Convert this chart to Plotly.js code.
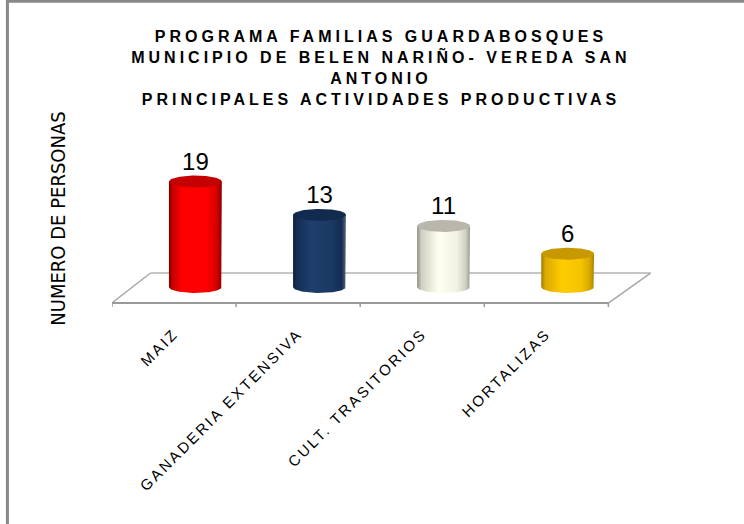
<!DOCTYPE html>
<html>
<head>
<meta charset="utf-8">
<script src="https://cdn.plot.ly/plotly-3.0.1.min.js"></script>
<style>
  html, body { margin: 0; padding: 0; background: #fff; }
  #chart { width: 744px; height: 524px; }
  .gtitle { letter-spacing: 4px; }
  .xtick text { letter-spacing: 2.5px; }
</style>
</head>
<body>
<div id="chart"></div>
<script>
// ---- data ----
const categories = ['MAIZ', 'GANADERIA EXTENSIVA', 'CULT. TRASITORIOS', 'HORTALIZAS'];
const values = [19, 13, 11, 6];
const titleLines = ['PROGRAMA FAMILIAS GUARDABOSQUES', 'MUNICIPIO DE BELEN NARIÑO- VEREDA SAN', 'ANTONIO', 'PRINCIPALES ACTIVIDADES PRODUCTIVAS'];
const yTitle = 'NUMERO DE PERSONAS';

// ---- styles ----
const bodyScales = [
  [[0, '#7a0000'], [0.07, '#c80000'], [0.25, '#ff0000'], [0.7, '#ff0000'], [0.9, '#d60000'], [1, '#8a0000']],
  [[0, '#0b1f3b'], [0.08, '#142e55'], [0.35, '#1f3f6c'], [0.75, '#1a3863'], [0.92, '#132c52'], [1, '#5a6878']],
  [[0, '#8c8c84'], [0.08, '#cfcfc4'], [0.4, '#fffff0'], [0.75, '#f2f2e4'], [0.92, '#cfcfc2'], [1, '#9a9a92']],
  [[0, '#a07a00'], [0.08, '#dcaa00'], [0.4, '#ffcc00'], [0.75, '#f5c400'], [0.92, '#d8a800'], [1, '#a88400']]
];
const topColors = ['#c40000', '#112a4e', '#b9b6ab', '#c89800'];

const barOffset = 0.172;   // 3D depth shift of bar centres (category units)
const halfW = 0.213;       // half width of cylinder (category units)
const ry = 1.08;           // vertical semi-axis of ellipses (value units)
const frontY = -2.883, backY = 2.52, backDx = 0.31, yMin = -3.6, yMax = 28.29;
const N = 60;

const traces = [];

// floor (chart frame)
const nCat = categories.length;
const fx0 = -0.5, fx1 = nCat - 0.5;
traces.push({
  x: [fx0 + backDx, fx1 + backDx + 0.03], y: [backY, backY], mode: 'lines',
  line: {color: '#c6c6c6', width: 2}, hoverinfo: 'skip', showlegend: false
});
traces.push({
  x: [fx0, fx0 + backDx, null, fx1, fx1 + backDx + 0.03], y: [frontY, backY, null, frontY, backY], mode: 'lines',
  line: {color: '#a8a8a8', width: 1.5}, hoverinfo: 'skip', showlegend: false
});
const tx = [], ty = [];
for (let i = 0; i <= nCat; i++) { tx.push(fx0 + i, fx0 + i, null); ty.push(frontY, yMin, null); }
traces.push({x: tx, y: ty, mode: 'lines', line: {color: '#999', width: 1.5}, hoverinfo: 'skip', showlegend: false});
traces.push({
  x: [fx0, fx1], y: [frontY, frontY], mode: 'lines',
  line: {color: '#999', width: 2}, hoverinfo: 'skip', showlegend: false
});

// cylinders
values.forEach((v, i) => {
  const cx = i + barOffset;
  const bx = [cx - halfW, cx - halfW, cx + halfW, cx + halfW];
  const by = [0, v, v, 0];
  for (let k = 0; k <= N; k++) {
    const t = Math.PI * k / N;
    bx.push(cx + halfW * Math.cos(t));
    by.push(-ry * Math.sin(t));
  }
  traces.push({
    x: bx, y: by, mode: 'lines', fill: 'toself',
    line: {width: 0, color: 'rgba(0,0,0,0)'},
    fillgradient: {type: 'horizontal', colorscale: bodyScales[i]},
    hoverinfo: 'skip', showlegend: false
  });
  const ex = [], ey = [];
  for (let k = 0; k <= 2 * N; k++) {
    const t = Math.PI * k / N;
    ex.push(cx + halfW * Math.cos(t));
    ey.push(v + ry * Math.sin(t));
  }
  traces.push({
    x: ex, y: ey, mode: 'lines', fill: 'toself', fillcolor: topColors[i],
    line: {width: 0, color: 'rgba(0,0,0,0)'}, hoverinfo: 'skip', showlegend: false
  });
});

// value labels
traces.push({
  x: values.map((v, i) => i + barOffset),
  y: values.map(v => v + ry),
  text: values.map(String),
  mode: 'text', textposition: 'top center',
  textfont: {family: 'Liberation Sans, Arial, sans-serif', size: 24, color: '#000'},
  cliponaxis: false, hoverinfo: 'skip', showlegend: false
});

const W = 744, H = 524, L = 112, T = 130, B = 217;
const R = W - L - 124 * 4.4;
const pw = W - L - R, ph = H - T - B;
const px = X => (X - L) / pw;
const py = Y => (H - B - Y) / ph;

const layout = {
  width: W, height: H,
  margin: {l: L, r: R, t: T, b: B},
  paper_bgcolor: '#fff', plot_bgcolor: 'rgba(0,0,0,0)',
  showlegend: false,
  title: {
    text: '<b>' + titleLines.join('<br>') + '</b>',
    font: {family: 'Liberation Sans, Arial, sans-serif', size: 16, color: '#000'},
    xref: 'container', yref: 'container', x: 0.512, xanchor: 'center', y: 0.919, yanchor: 'top'
  },
  xaxis: {
    range: [-0.5, 3.9], showgrid: false, zeroline: false, showline: false,
    tickmode: 'array', tickvals: categories.map((c, i) => i), ticktext: categories,
    tickangle: -45, ticks: '', ticklabelstandoff: 14,
    tickfont: {family: 'Liberation Sans, Arial, sans-serif', size: 15, color: '#000'},
    fixedrange: true
  },
  yaxis: {
    range: [yMin, yMax], showgrid: false, zeroline: false, showline: false,
    showticklabels: false, ticks: '', fixedrange: true,
    title: {text: yTitle, standoff: 40, font: {family: 'Liberation Sans Narrow, DejaVu Sans Condensed, Arial Narrow, sans-serif', size: 20, color: '#000'}}
  },
  shapes: [{
    type: 'path', xref: 'paper', yref: 'paper',
    path: `M ${px(7.5)} ${py(H + 10)} L ${px(7.5)} ${py(1.2)} L ${px(W + 10)} ${py(1.2)}`,
    line: {color: '#888', width: 3}
  }]
};

Plotly.newPlot('chart', traces, layout, {displayModeBar: false, staticPlot: true});
</script>
</body>
</html>
